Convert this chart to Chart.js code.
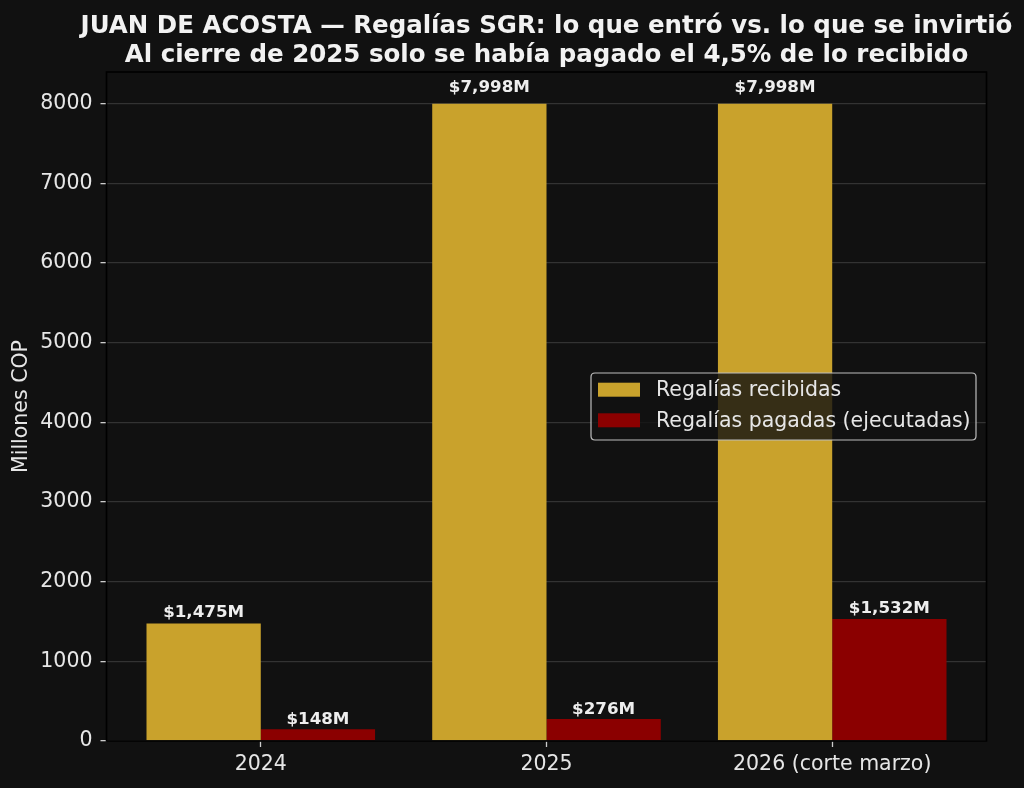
<!DOCTYPE html>
<html><head><meta charset="utf-8">
<script src="https://cdn.jsdelivr.net/npm/chart.js@4.4.1/dist/chart.umd.min.js"></script>
<style>html,body{margin:0;padding:0;background:#111111;overflow:hidden}canvas{display:block}</style>
</head><body>
<canvas id="c" width="1024" height="788"></canvas>
<script>
const categories = ['2024', '2025', '2026 (corte marzo)'];
const recibidas = [1475, 7998, 7998];
const pagadas = [148, 276, 1532];
const yTicks = [0, 1000, 2000, 3000, 4000, 5000, 6000, 7000, 8000];
const seriesNames = ['Regalías recibidas', 'Regalías pagadas (ejecutadas)'];
const titleLines = ['JUAN DE ACOSTA — Regalías SGR: lo que entró vs. lo que se invirtió',
                    'Al cierre de 2025 solo se había pagado el 4,5% de lo recibido'];
const yTitle = 'Millones COP';

const GOLD = '#C9A22C', RED = '#8B0000', BG = '#111111', TXT = '#e6e6e6';
const FONT = "'DejaVu Sans', sans-serif";
const fmt = v => '$' + String(v).replace(/\B(?=(\d{3})+(?!\d))/g, ',') + 'M';

const bgPlugin = {
  id: 'bg',
  beforeDraw(chart) {
    const c = chart.ctx; c.save(); c.fillStyle = BG; c.fillRect(0, 0, chart.width, chart.height); c.restore();
  }
};
const overPlugin = {
  id: 'over',
  afterDatasetsDraw(chart) {
    const c = chart.ctx, a = chart.chartArea, ys = chart.scales.y;
    c.save();
    c.font = 'bold 16.7px ' + FONT; c.fillStyle = '#eeeeee'; c.textAlign = 'center'; c.textBaseline = 'alphabetic';
    chart.data.datasets.forEach((ds, i) => {
      chart.getDatasetMeta(i).data.forEach((el, j) => {
        const v = ds.data[j].y;
        c.fillText(fmt(v), el.x, ys.getPixelForValue(v * 1.01 + 65));
      });
    });
    c.strokeStyle = '#000000'; c.lineWidth = 1.6;
    c.strokeRect(a.left, a.top, a.right - a.left, a.bottom - a.top);
    c.restore();
  },
  afterDraw(chart) {
    const c = chart.ctx, a = chart.chartArea;
    c.save();
    // title
    c.fillStyle = '#f2f2f2'; c.font = 'bold 24.5px ' + FONT; c.textAlign = 'center'; c.textBaseline = 'alphabetic';
    const cx = (a.left + a.right) / 2;
    c.fillText(titleLines[0], cx, 33);
    c.fillText(titleLines[1], cx, 62);
    // y title
    c.font = '20.5px ' + FONT; c.fillStyle = TXT;
    c.translate(22, (a.top + a.bottom) / 2); c.rotate(-Math.PI / 2);
    c.textBaseline = 'middle'; c.fillText(yTitle, 0, 0);
    c.restore();
    // legend
    c.save();
    const lx = 591, ly = 373, lw = 385, lh = 67, r = 4;
    c.beginPath();
    c.moveTo(lx + r, ly); c.lineTo(lx + lw - r, ly); c.quadraticCurveTo(lx + lw, ly, lx + lw, ly + r);
    c.lineTo(lx + lw, ly + lh - r); c.quadraticCurveTo(lx + lw, ly + lh, lx + lw - r, ly + lh);
    c.lineTo(lx + r, ly + lh); c.quadraticCurveTo(lx, ly + lh, lx, ly + lh - r);
    c.lineTo(lx, ly + r); c.quadraticCurveTo(lx, ly, lx + r, ly); c.closePath();
    c.fillStyle = 'rgba(17,17,17,0.8)'; c.fill();
    c.strokeStyle = '#bdbdbd'; c.lineWidth = 1.2; c.stroke();
    const cols = [GOLD, RED], ys = [389.7, 420.3];
    c.font = '20.5px ' + FONT; c.textAlign = 'left'; c.textBaseline = 'middle';
    seriesNames.forEach((n, i) => {
      c.fillStyle = cols[i]; c.fillRect(598, ys[i] - 7, 42, 14);
      c.fillStyle = TXT; c.fillText(n, 656, ys[i] + 1);
    });
    c.restore();
  }
};

new Chart(document.getElementById('c'), {
  type: 'bar',
  data: {
    datasets: [
      { label: seriesNames[0], data: recibidas.map((v, i) => ({ x: i, y: v })), backgroundColor: GOLD, borderWidth: 0 },
      { label: seriesNames[1], data: pagadas.map((v, i) => ({ x: i, y: v })), backgroundColor: RED, borderWidth: 0 }
    ]
  },
  options: {
    responsive: false, animation: false, devicePixelRatio: 1,
    categoryPercentage: 0.8, barPercentage: 1.0,
    layout: { padding: { top: 72, right: 37.5, left: 0, bottom: 0 } },
    plugins: { legend: { display: false }, title: { display: false }, tooltip: { enabled: false } },
    scales: {
      x: {
        type: 'linear', min: -0.54, max: 2.54, offset: false,
        afterBuildTicks: ax => { ax.ticks = categories.map((_, i) => ({ value: i })); },
        afterFit: ax => { ax.height = 47; },
        grid: { display: true, drawOnChartArea: false, offset: false, tickLength: 6, tickColor: '#cccccc', tickWidth: 1.3 },
        border: { display: false },
        ticks: { autoSkip: false, maxRotation: 0, padding: 5, color: TXT, font: { family: FONT, size: 20.5 },
                 callback: v => categories[v] }
      },
      y: {
        min: 0, max: 8398,
        afterBuildTicks: ax => { ax.ticks = yTicks.map(v => ({ value: v })); },
        afterFit: ax => { ax.width = 106.5; },
        grid: { color: '#333333', lineWidth: 1.3, tickLength: 6, tickColor: '#cccccc', tickWidth: 1.3 },
        border: { display: false },
        ticks: { padding: 8, color: TXT, font: { family: FONT, size: 20.5 }, callback: v => String(v) }
      }
    }
  },
  plugins: [bgPlugin, overPlugin]
});
</script>
</body></html>
